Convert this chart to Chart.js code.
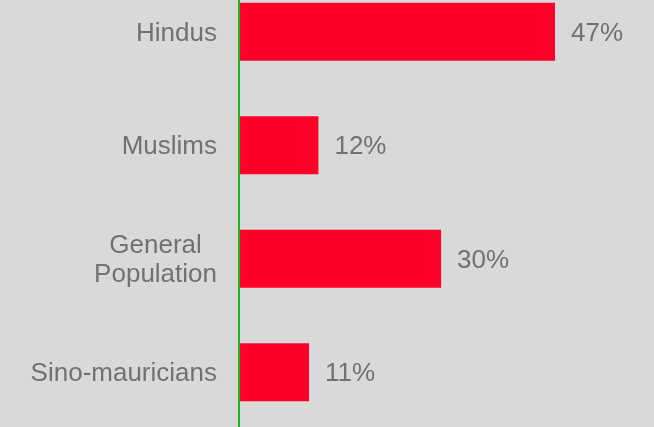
<!DOCTYPE html>
<html>
<head>
<meta charset="utf-8">
<script src="https://cdn.jsdelivr.net/npm/chart.js@4"></script>
<style>
    html, body { margin: 0; padding: 0; background: #d9d9d9; overflow: hidden; }
    #wrap { position: absolute; left: 0; top: -25px; width: 654px; height: 454px; }
</style>
</head>
<body>
<div id="wrap"><canvas id="chart"></canvas></div>
<script>
// categories (multi-line labels are arrays)
const categories = ['Hindus', 'Muslims', ['General', 'Population'], 'Sino-mauricians'];
// bar lengths as measured on the picture
const shares = [47, 11.7, 30, 10.3];
// printed value labels
const shareLabels = ['47%', '12%', '30%', '11%'];

const FONT = '"Liberation Sans", Arial, sans-serif';
const TEXT_COLOR = '#717171';

// draws category names and values next to bars
const labelPlugin = {
    id: 'labels',
    afterDatasetsDraw(chart) {
        const ctx = chart.ctx;
        const yScale = chart.scales.y;
        const meta = chart.getDatasetMeta(0);
        ctx.save();
        ctx.font = '26px ' + FONT;
        ctx.fillStyle = TEXT_COLOR;
        ctx.textBaseline = 'middle';
        categories.forEach((cat, i) => {
            const y = yScale.getPixelForValue(i) + 2;
            const lines = Array.isArray(cat) ? cat : [cat];
            const lineH = 29;
            const widest = Math.max(...lines.map(l => ctx.measureText(l).width));
            const right = 217;
            const center = right - widest / 2;
            lines.forEach((line, k) => {
                const ly = y + (k - (lines.length - 1) / 2) * lineH;
                ctx.textAlign = 'center';
                ctx.fillText(line, center, ly);
            });
            // value label
            const bar = meta.data[i];
            ctx.textAlign = 'left';
            ctx.fillText(shareLabels[i], bar.x + 16, y);
        });
        ctx.restore();
    }
};

new Chart(document.getElementById('chart'), {
    type: 'bar',
    data: {
        labels: categories,
        datasets: [
            {
                data: shares,
                backgroundColor: '#ff0029',
                borderWidth: 0,
                barPercentage: 0.51,
                categoryPercentage: 1
            }
        ]
    },
    options: {
        indexAxis: 'y',
        responsive: true,
        maintainAspectRatio: false,
        animation: false,
        layout: { padding: 0 },
        plugins: {
            legend: { display: false },
            tooltip: { enabled: false }
        },
        scales: {
            x: {
                display: false,
                min: -0.15,
                max: 61.77
            },
            y: {
                grid: { display: false },
                ticks: { display: false },
                border: { display: true, color: '#22b322', width: 2 },
                afterFit(scale) {
                    scale.width = 239;
                }
            }
        }
    },
    plugins: [labelPlugin]
});
</script>
</body>
</html>
